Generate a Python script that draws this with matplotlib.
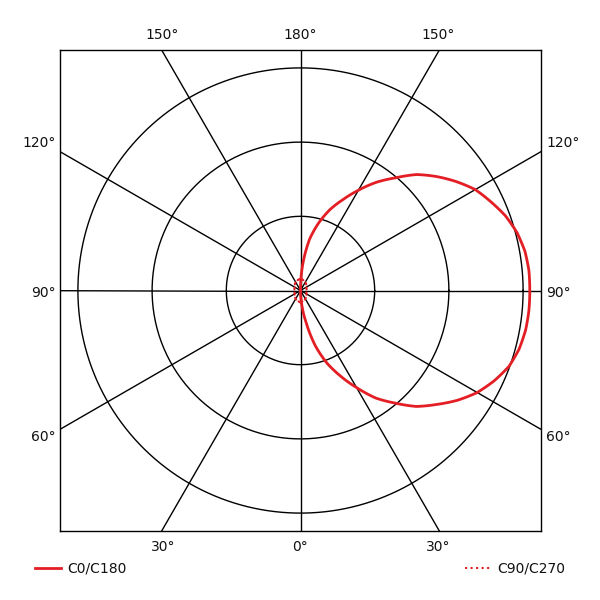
import numpy as np
import matplotlib
matplotlib.use("Agg")
import matplotlib.pyplot as plt
from matplotlib.lines import Line2D
from matplotlib.path import Path
from matplotlib.patches import PathPatch

# gamma angles (deg, 0 = nadir) and intensities (rings at 100/200/300)
gamma_c0 = [0, 5, 10, 15, 20, 25, 30, 35, 40, 45, 50, 55, 60, 65, 70, 75, 80, 85, 90,
            95, 100, 105, 110, 115, 120, 125, 130, 135, 140, 145, 150, 155, 160, 165, 170, 175, 180]
int_c0 = [0, 19, 44, 77, 104, 127, 151, 177, 198, 221, 239, 258, 275, 288, 299, 305, 308, 309, 309,
          309, 307, 302, 294, 283, 272, 256, 239, 221, 198, 178, 156, 135, 116, 94, 70, 36, 0]

gamma_c90 = [0, 30, 60, 90, 120, 150, 180]
int_c90 = [16, 13, 9, 8, 9, 13, 16]

rings = [100, 200, 300]
spoke_angles = list(range(0, 360, 30))

top_labels = ["150°", "180°", "150°"]
side_labels = ["120°", "90°", "60°"]
bottom_labels = ["30°", "0°", "30°"]
series_names = ["C0/C180", "C90/C270"]

red = "#e31e24"
W = H = 600
fig = plt.figure(figsize=(6, 6), dpi=100)
rect = [60 / W, 69 / H, 481 / W, 481 / H]
unit = 74.2 / 100.0
half = 240.5 / unit

ax = fig.add_axes(rect)
ax.set_xlim(-half, half)
ax.set_ylim(-half, half)
ax.set_aspect("equal", adjustable="box")
ax.set_xticks([])
ax.set_yticks([])
for s in ax.spines.values():
    s.set_linewidth(1.0)
    s.set_color("black")

t = np.linspace(0, 2 * np.pi, 400)
for r in rings:
    ax.plot(r * np.cos(t), r * np.sin(t), color="black", lw=1.0)
for a in spoke_angles:
    ar = np.deg2rad(a)
    ax.plot([0, 2000 * np.sin(ar)], [0, -2000 * np.cos(ar)], color="black", lw=1.0)

# polar overlay for the intensity curves
pax = fig.add_axes(rect, projection="polar", frameon=False)
pax.patch.set_alpha(0)
pax.set_theta_zero_location("S")
pax.set_theta_direction(1)
pax.set_rlim(0, half)
pax.grid(False)
pax.set_xticks([])
pax.set_yticks([])


def polar_curve(theta, r, **kw):
    p = Path(np.column_stack([theta, r]), _interpolation_steps=16)
    pax.add_patch(PathPatch(p, fill=False, transform=pax.transData, clip_on=False,
                            capstyle="round", joinstyle="round", **kw))


polar_curve(np.deg2rad(gamma_c0), np.array(int_c0, float), edgecolor=red, lw=2.0, zorder=5)

g9 = np.deg2rad(gamma_c90)
for side in (1, -1):
    polar_curve(side * g9, np.array(int_c90, float), edgecolor=red, lw=1.5,
                linestyle=(0, (1, 1.5)), zorder=5)


def ft(x, y, s, ha="center"):
    fig.text(x / W, 1 - y / H, s, ha=ha, va="center", fontsize=10, color="#111111")


for x, s in zip([162, 300, 438], top_labels):
    ft(x, 35, s)
for y, s in zip([143, 293, 437], side_labels):
    ft(56, y, s, ha="right")
    ft(546, y, s, ha="left")
for x, s in zip([163, 300, 438], bottom_labels):
    ft(x, 547, s)

fig.add_artist(Line2D([35 / W, 61 / W], [1 - 568 / H, 1 - 568 / H], color=red, lw=2.0))
ft(67, 568, series_names[0], ha="left")
fig.add_artist(Line2D([465 / W, 491 / W], [1 - 568 / H, 1 - 568 / H], color=red, lw=1.5, ls=":"))
ft(497, 568, series_names[1], ha="left")

fig.savefig("out.png", dpi=100, facecolor="white")
